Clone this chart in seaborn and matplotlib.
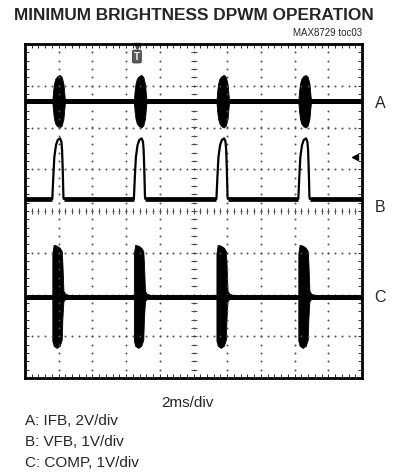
import numpy as np
import pandas as pd
import seaborn as sns
from matplotlib import pyplot as plt

# burst / pulse start times (divisions, 2ms/div)
burst_starts = [0.81, 3.23, 5.68, 8.11]

# trace baselines (divisions from bottom of screen)
base_a = 6.63
base_b = 4.29
base_c = 1.94

# A: IFB burst envelope (offset from start, half amplitude)
a_dx = [0.0, 0.02, 0.05, 0.09, 0.15, 0.22, 0.28, 0.33, 0.36, 0.38]
a_amp = [0.0, 0.22, 0.42, 0.54, 0.6, 0.63, 0.58, 0.42, 0.15, 0.0]

# B: VFB pulse shape (offset from start, height above baseline)
b_dx = [0.0, 0.03, 0.06, 0.11, 0.16, 0.23, 0.27, 0.29, 0.31, 0.33, 0.34]
b_h = [0.0, 0.53, 1.0, 1.29, 1.41, 1.45, 1.37, 1.17, 0.69, 0.05, 0.0]

# C: COMP burst envelope (offset from start, upper / lower)
c_dx = [0.0, 0.001, 0.04, 0.13, 0.22, 0.28, 0.30, 0.33, 0.38, 0.52, 0.62]
c_up = [0.0, 1.05, 1.25, 1.23, 1.18, 1.1, 0.8, 0.15, 0.08, 0.04, 0.0]
c_lo = [0.0, -1.05, -1.17, -1.22, -1.17, -1.02, -0.5, -0.1, -0.05, -0.04, 0.0]

sns.set_style("white")
plt.rcParams['font.family'] = ['Liberation Sans', 'DejaVu Sans']

fig = plt.figure(figsize=(4, 4.74), dpi=100)
ax = fig.add_axes([25 / 400, 1 - 378 / 474, 337 / 400, 334 / 474])
ax.set_xlim(0, 10)
ax.set_ylim(0, 8)

# graticule dots
dot_x = np.arange(0.2, 10, 0.2)
dot_y = np.arange(0.2, 8, 0.2)
for gx in range(1, 10):
    ax.plot([gx] * len(dot_y), dot_y, ls='none', marker='o', ms=1.4, color='0.3', mew=0)
for gy in range(1, 8):
    ax.plot(dot_x, [gy] * len(dot_x), ls='none', marker='o', ms=1.4, color='0.3', mew=0)
# center crosshair ticks
ax.plot(dot_x, [4] * len(dot_x), ls='none', marker='|', ms=4.5, mew=0.7, color='0.3')
ax.plot([5] * len(dot_y), dot_y, ls='none', marker='_', ms=4.5, mew=0.7, color='0.3')

# trace A
sns.lineplot(x=[0, 10], y=[base_a, base_a], ax=ax, color='black', lw=3.6)
for s in burst_starts:
    xs = [s + d for d in a_dx]
    ax.fill_between(xs, [base_a + v for v in a_amp], [base_a - v for v in a_amp],
                    color='black', lw=0.6)

# trace B
bx, by = [0.0], [base_b]
for s in burst_starts:
    bx += [s + d for d in b_dx]
    by += [base_b + h for h in b_h]
bx.append(10.0)
by.append(base_b)
dfb = pd.DataFrame({'t': bx, 'v': by})
sns.lineplot(data=dfb, x='t', y='v', ax=ax, color='black', lw=1.6, estimator=None, sort=False)
edges = [0.0]
for s in burst_starts:
    edges += [s, s + b_dx[-1]]
edges.append(10.0)
for i in range(0, len(edges), 2):
    ax.plot([edges[i], edges[i + 1]], [base_b, base_b], color='black', lw=3.4, solid_capstyle='butt')

# trace C
sns.lineplot(x=[0, 10], y=[base_c, base_c], ax=ax, color='black', lw=3.6)
for s in burst_starts:
    xs = [s + d for d in c_dx]
    ax.fill_between(xs, [base_c + v for v in c_up], [base_c + v for v in c_lo],
                    color='black', lw=0.6)

# trigger marker and level arrow
ax.plot([3.32], [7.96], marker='v', ms=4, color='0.3', clip_on=False)
ax.text(3.32, 7.7, 'T', ha='center', va='center', fontsize=7, color='white', fontweight='bold',
        bbox=dict(boxstyle='round,pad=0.15', fc='0.35', ec='0.2', lw=0.5))
ax.plot([9.8], [5.29], marker='<', ms=4, color='black')

ax.set_xticks(range(0, 11))
ax.set_yticks(range(0, 9))
ax.set_xticks(dot_x, minor=True)
ax.set_yticks(dot_y, minor=True)
ax.tick_params(which='both', direction='in', length=3, width=0.7, top=True, right=True,
               bottom=True, left=True, labelbottom=False, labelleft=False)
ax.set_xlabel('')
ax.set_ylabel('')
for sp in ax.spines.values():
    sp.set_linewidth(2)
    sp.set_color('black')

# labels
fig.text(194 / 400, 1 - 16 / 474, 'MINIMUM BRIGHTNESS DPWM OPERATION', ha='center', va='center',
         fontsize=12.4, fontweight='bold')
fig.text(362 / 400, 1 - 33 / 474, 'MAX8729 toc03', ha='right', va='center', fontsize=7)
for lab, yy in [('A', 103), ('B', 207), ('C', 298)]:
    fig.text(380 / 400, 1 - yy / 474, lab, ha='center', va='center', fontsize=11.5)
fig.text(187 / 400, 1 - 403 / 474, '2ms/div', ha='center', va='center', fontsize=11)
for txt, yy in [('A: IFB, 2V/div', 421), ('B: VFB, 1V/div', 442), ('C: COMP, 1V/div', 463)]:
    fig.text(25 / 400, 1 - yy / 474, txt, ha='left', va='center', fontsize=11)

fig.savefig('out.png', dpi=100)
